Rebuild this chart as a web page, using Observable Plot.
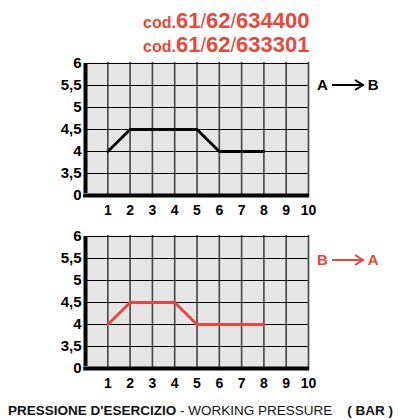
<!DOCTYPE html>
<html><head><meta charset="utf-8">
<script src="https://cdn.jsdelivr.net/npm/d3@7"></script>
<script src="https://cdn.jsdelivr.net/npm/@observablehq/plot@0.6"></script>
<style>
body{margin:0;background:#fff;font-family:"Liberation Sans",Arial,sans-serif;}
#wrap{position:relative;width:410px;height:420px;overflow:hidden;}
.abs{position:absolute;}
.title{color:#e8473c;font-weight:bold;white-space:nowrap;line-height:24px;}
.title .s{font-size:16px;}
.title .b{font-size:22px;}
.title .sl{font-weight:normal;font-size:20px;}
.arrow{font-weight:bold;font-size:15px;white-space:nowrap;display:flex;align-items:center;}
.foot{font-size:13.5px;white-space:nowrap;color:#111;}
</style></head>
<body><div id="wrap">
<div class="abs title" style="left:143px;top:9px;"><span class="s">cod.</span><span class="b">61</span><span class="sl">/</span><span class="b">62</span><span class="sl">/</span><span class="b">634400</span></div>
<div class="abs title" style="left:143px;top:33px;"><span class="s">cod.</span><span class="b">61</span><span class="sl">/</span><span class="b">62</span><span class="sl">/</span><span class="b">633301</span></div>
<div id="c1" class="abs" style="left:0;top:0;"></div>
<div id="c2" class="abs" style="left:0;top:220px;"></div>
<div class="abs arrow" style="left:317px;top:76px;color:#000;">A<svg width="34" height="12" style="margin:0 3px"><line x1="1" y1="6" x2="31" y2="6" stroke="#000" stroke-width="2"/><polyline points="24,1 32,6 24,11" fill="none" stroke="#000" stroke-width="2"/></svg>B</div>
<div class="abs arrow" style="left:317px;top:251px;color:#e8473c;">B<svg width="34" height="12" style="margin:0 3px"><line x1="1" y1="6" x2="31" y2="6" stroke="#e8473c" stroke-width="2"/><polyline points="24,1 32,6 24,11" fill="none" stroke="#e8473c" stroke-width="2"/></svg>A</div>
<div class="abs foot" style="left:8px;top:403px;"><b>PRESSIONE D'ESERCIZIO</b> - WORKING PRESSURE &nbsp;&nbsp;&nbsp;<b>( BAR )</b></div>
</div>
<script>
const xTicks = [1,2,3,4,5,6,7,8,9,10];
const yTicks = [6,5.5,5,4.5,4,3.5,0];
const pressureAB = [1,2,5,6,8];
const flowAB = [4,4.5,4.5,4,4];
const pressureBA = [1,2,4,5,8];
const flowBA = [4,4.5,4.5,4,4];

function chart(px, py, color, height, top, bottom) {
  const data = px.map((x,i)=>({x, y: py[i]}));
  return Plot.plot({
    width: 410, height,
    marginLeft: 85, marginRight: 102, marginTop: top, marginBottom: bottom,
    style: {fontFamily: '"Liberation Sans", Arial, sans-serif', fontSize: "14px", fontWeight: "bold", color: "#000", background: "transparent", overflow: "visible"},
    x: {domain: [0,10], ticks: xTicks},
    y: {type: "point", domain: yTicks, padding: 0},
    marks: [
      Plot.frame({fill: "#e5e5e5", stroke: null}),
      Plot.ruleX(xTicks, {stroke: "#444", strokeWidth: 1.6}),
      Plot.ruleY(yTicks.slice(0, -1), {stroke: "#000", strokeWidth: 1}),
      Plot.line(data, {x: "x", y: "y", stroke: color, strokeWidth: 2.8}),
      Plot.ruleX([0], {stroke: "#000", strokeWidth: 4, y1: 0, y2: 6, insetTop: -2}),
      Plot.ruleY([0], {stroke: "#000", strokeWidth: 4, x1: -0.08, x2: 10.05}),
      Plot.axisX({ticks: xTicks, tickSize: 0, tickPadding: 9, label: null, fontSize: 14, fontWeight: "bold"}),
      Plot.axisY({ticks: yTicks, tickSize: 0, tickPadding: 4, label: null, fontSize: 15, fontWeight: "bold", tickFormat: d => String(d).replace(".", ",")})
    ]
  });
}
document.getElementById("c1").append(chart(pressureAB, flowAB, "#000", 220, 62, 24));
document.getElementById("c2").append(chart(pressureBA, flowBA, "#e8473c", 170, 15, 21));
</script>
</body></html>
